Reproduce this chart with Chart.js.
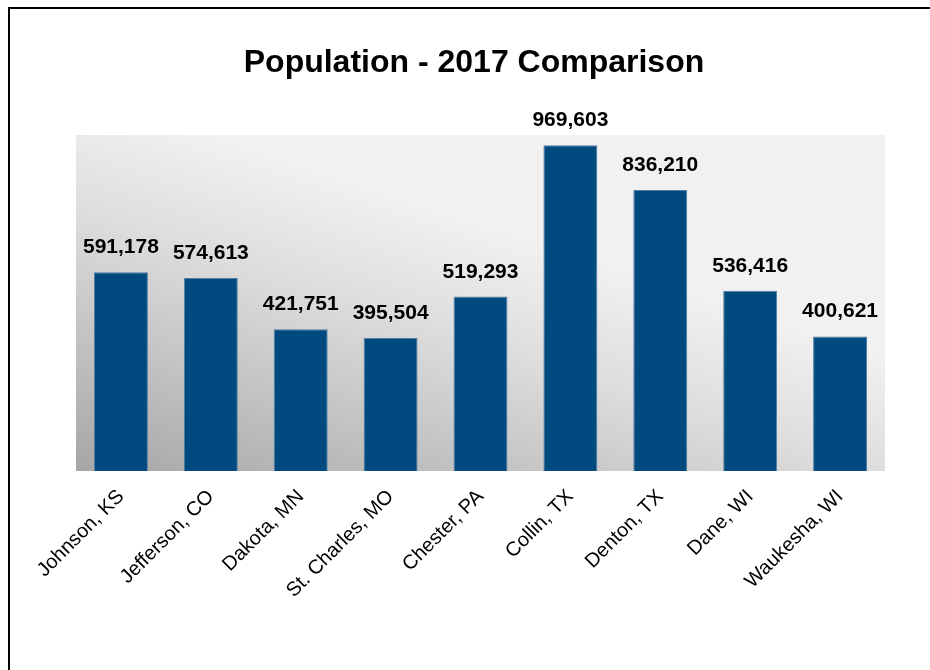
<!DOCTYPE html>
<html>
<head>
<meta charset="utf-8">
<script src="https://cdn.jsdelivr.net/npm/chart.js@4.4.1/dist/chart.umd.min.js"></script>
<style>
  html, body { margin: 0; padding: 0; background: #ffffff; }
  #wrap { position: relative; width: 930px; height: 670px; overflow: hidden; }
  #frame { position: absolute; left: 8px; top: 7px; width: 940px; height: 700px;
           border-top: 2.5px solid #000; border-left: 2.5px solid #000; pointer-events: none; }
  canvas { position: absolute; left: 0; top: 0; }
</style>
</head>
<body>
<div id="wrap">
  <canvas id="chart" width="930" height="670"></canvas>
  <div id="frame"></div>
</div>
<script>
// County populations, 2017
const titleText = 'Population - 2017 Comparison';
const counties = ['Johnson, KS', 'Jefferson, CO', 'Dakota, MN', 'St. Charles, MO', 'Chester, PA',
                  'Collin, TX', 'Denton, TX', 'Dane, WI', 'Waukesha, WI'];
const population = [591178, 574613, 421751, 395504, 519293, 969603, 836210, 536416, 400621];
const axisMax = 1000000;

const FONT = '"Liberation Sans", Arial, Helvetica, sans-serif';

// Shaded plot background: dark in the lower left, fading to light grey
const plotBackground = {
  id: 'plotBackground',
  beforeDraw(chart) {
    const { ctx, chartArea: a } = chart;
    const len = 360;
    const dx = 0.31, dy = -0.95;
    const g = ctx.createLinearGradient(a.left, a.bottom, a.left + dx * len, a.bottom + dy * len);
    g.addColorStop(0, '#a6a6a6');
    g.addColorStop(0.35, '#c2c2c2');
    g.addColorStop(0.7, '#dedede');
    g.addColorStop(1, '#f1f1f1');
    ctx.save();
    ctx.fillStyle = g;
    ctx.fillRect(a.left, a.top, a.right - a.left, a.bottom - a.top);
    ctx.restore();
  }
};

// Value labels above each bar and the chart heading
const valueLabels = {
  id: 'valueLabels',
  afterDatasetsDraw(chart) {
    const { ctx } = chart;
    const meta = chart.getDatasetMeta(0);
    ctx.save();
    ctx.fillStyle = '#000';
    ctx.font = 'bold 21px ' + FONT;
    ctx.textAlign = 'center';
    ctx.textBaseline = 'alphabetic';
    meta.data.forEach((bar, i) => {
      ctx.fillText(population[i].toLocaleString('en-US'), bar.x, bar.y - 19);
    });
    ctx.font = 'bold 32px ' + FONT;
    ctx.textBaseline = 'middle';
    ctx.fillText(titleText, 474, 63);
    ctx.restore();
  }
};

new Chart(document.getElementById('chart'), {
  type: 'bar',
  data: {
    labels: counties,
    datasets: [{
      data: population,
      backgroundColor: '#004a7f',
      borderColor: '#4f7ea6',
      borderWidth: 1,
      barPercentage: 0.6,
      categoryPercentage: 1.0
    }]
  },
  options: {
    responsive: false,
    animation: false,
    devicePixelRatio: 1,
    layout: { padding: { left: 76, right: 45, top: 135, bottom: 0 } },
    plugins: {
      legend: { display: false },
      title: { display: false },
      tooltip: { enabled: false }
    },
    scales: {
      y: { display: false, min: 0, max: axisMax },
      x: {
        grid: { display: false, drawTicks: false },
        border: { display: false },
        ticks: {
          color: '#000',
          font: { family: FONT, size: 20 },
          maxRotation: 45,
          minRotation: 45,
          padding: 14,
          autoSkip: false
        },
        afterFit(scale) { scale.height = 199; }
      }
    }
  },
  plugins: [plotBackground, valueLabels]
});
</script>
</body>
</html>
